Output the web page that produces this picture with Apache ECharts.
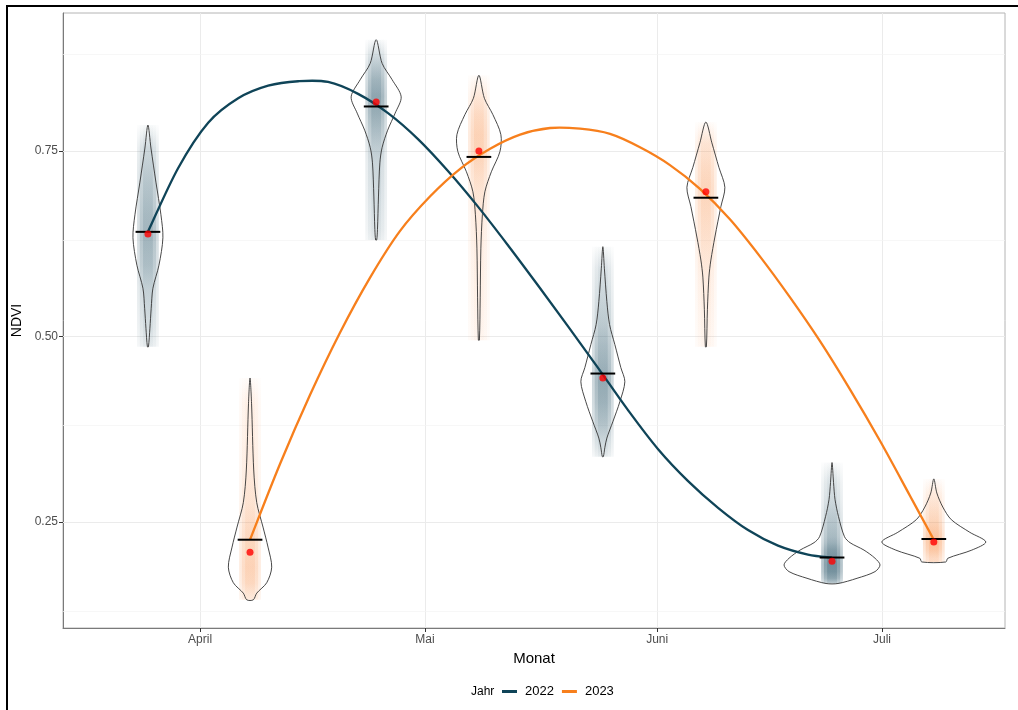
<!DOCTYPE html>
<html><head><meta charset="utf-8">
<script src="https://cdn.jsdelivr.net/npm/echarts@6/dist/echarts.min.js"></script>
<style>html,body{margin:0;padding:0;background:#fff}#c{width:1018px;height:710px}</style>
</head><body><div id="c"></div>
<script>
// ---------- data ----------
const monthLabels = ['April', 'Mai', 'Juni', 'Juli'];
const monthStarts = ['2022-04-01 00:00', '2022-05-01 00:00', '2022-06-01 00:00', '2022-07-01 00:00'];
const yTickValues = [0.25, 0.50, 0.75];
const yMinorValues = [0.125, 0.375, 0.625, 0.875];
const years = ['2022', '2023'];

const violinYear = ['2022', '2023', '2022', '2023', '2022', '2023', '2022', '2023'];
const violinDate = ['2022-03-25 01:00', '2022-04-07 16:00', '2022-04-24 12:00', '2022-05-08 05:00',
                    '2022-05-24 18:00', '2022-06-07 12:00', '2022-06-24 08:00', '2022-07-07 22:00'];
const violinMedian = [0.641, 0.226, 0.810, 0.742, 0.450, 0.687, 0.202, 0.227];
const violinMean   = [0.638, 0.209, 0.816, 0.750, 0.444, 0.695, 0.197, 0.223];
// [NDVI, relative density]
const violinProfiles = [
  [[0.785,0],[0.754,0.058],[0.708,0.154],[0.664,0.25],[0.633,0.288],[0.596,0.212],[0.565,0.096],[0.538,0.063],[0.511,0.038],[0.486,0.01]],
  [[0.444,0],[0.41,0.029],[0.32,0.071],[0.276,0.129],[0.243,0.25],[0.216,0.346],[0.189,0.417],[0.168,0.321],[0.154,0.129],[0.145,0.063]],
  [[0.9,0],[0.868,0.115],[0.846,0.308],[0.823,0.481],[0.801,0.365],[0.778,0.221],[0.755,0.115],[0.734,0.071],[0.688,0.044],[0.644,0.025],[0.63,0.01]],
  [[0.852,0],[0.821,0.106],[0.799,0.269],[0.772,0.423],[0.749,0.404],[0.722,0.24],[0.695,0.115],[0.664,0.067],[0.619,0.038],[0.552,0.025],[0.495,0.01]],
  [[0.621,0],[0.592,0.029],[0.547,0.077],[0.516,0.129],[0.489,0.231],[0.458,0.346],[0.439,0.423],[0.412,0.327],[0.385,0.192],[0.363,0.077],[0.35,0.038],[0.338,0.01]],
  [[0.789,0],[0.761,0.115],[0.728,0.25],[0.701,0.365],[0.675,0.288],[0.634,0.173],[0.603,0.096],[0.58,0.058],[0.536,0.029],[0.486,0.01]],
  [[0.33,0],[0.303,0.029],[0.28,0.058],[0.257,0.125],[0.23,0.24],[0.222,0.346],[0.212,0.615],[0.201,0.827],[0.192,0.923],[0.183,0.827],[0.174,0.481],[0.167,0.115]],
  [[0.308,0],[0.289,0.058],[0.27,0.173],[0.253,0.337],[0.236,0.692],[0.223,1],[0.212,0.731],[0.201,0.269],[0.196,0.231]]
];

const curve2022 = [
  ['2022-03-25 01:00',0.641],['2022-03-29 02:00',0.727],['2022-04-02 02:00',0.788],['2022-04-06 02:00',0.821],
  ['2022-04-10 02:00',0.838],['2022-04-14 02:00',0.844],['2022-04-18 02:00',0.843],['2022-04-22 02:00',0.827],
  ['2022-04-26 02:00',0.801],['2022-04-30 02:00',0.766],['2022-05-04 02:00',0.723],['2022-05-08 02:00',0.675],
  ['2022-05-12 02:00',0.623],['2022-05-16 02:00',0.569],['2022-05-20 02:00',0.514],['2022-05-24 02:00',0.458],
  ['2022-05-28 02:00',0.401],['2022-06-01 03:00',0.348],['2022-06-05 03:00',0.305],['2022-06-09 03:00',0.269],
  ['2022-06-13 03:00',0.239],['2022-06-17 03:00',0.218],['2022-06-21 03:00',0.206],['2022-06-24 08:00',0.202]
];
const curve2023 = [
  ['2022-04-07 16:00',0.226],['2022-04-11 16:00',0.328],['2022-04-15 16:00',0.421],['2022-04-19 16:00',0.505],
  ['2022-04-23 16:00',0.579],['2022-04-27 16:00',0.642],['2022-05-01 17:00',0.689],['2022-05-05 17:00',0.726],
  ['2022-05-09 17:00',0.753],['2022-05-13 17:00',0.772],['2022-05-17 17:00',0.781],['2022-05-21 17:00',0.780],
  ['2022-05-25 17:00',0.773],['2022-05-29 17:00',0.755],['2022-06-02 17:00',0.731],['2022-06-06 17:00',0.699],
  ['2022-06-10 17:00',0.658],['2022-06-14 17:00',0.608],['2022-06-18 17:00',0.553],['2022-06-22 17:00',0.494],
  ['2022-06-26 17:00',0.429],['2022-06-30 18:00',0.359],['2022-07-04 18:00',0.285],['2022-07-07 22:00',0.226]
];

// ---------- helpers / styles ----------
function ts(s) {
  const [d, t] = s.split(' ');
  const [Y, M, D] = d.split('-').map(Number);
  const h = t ? Number(t.split(':')[0]) : 0;
  return Date.UTC(Y, M - 1, D, h);
}
const DAY = 86400000;
const VIOLIN_HALF = 6.94;   // days at relative density 1
const JITTER_HALF = 1.45;   // days
const MEDIAN_HALF = 1.65;   // days
const COLORS = { '2022': '#0f4458', '2023': '#f77f1c' };
const CLOUD_RGB = { '2022': '32,78,98', '2023': '247,128,48' };
const monthTs = monthStarts.map(ts);
const curves = { '2022': curve2022, '2023': curve2023 };

const violinData = violinDate.map((d, i) => [ts(d), violinMedian[i]]);

function cloudItem(params, api) {
  const i = params.dataIndex;
  const prof = violinProfiles[i];
  const x = api.value(0);
  const vTop = prof[0][0], vBot = prof[prof.length - 1][0];
  const yr = violinYear[i];
  const rgb = CLOUD_RGB[yr];
  const k = yr === '2022' ? [0.03, 0.82] : [0.025, 0.55];
  const mk = (scale, w) => {
    const stops = prof.map(([v, d]) => ({
      offset: (vTop - v) / (vTop - vBot),
      color: 'rgba(' + rgb + ',' + (Math.min(0.9, k[0] + k[1] * Math.sqrt(d)) * scale).toFixed(3) + ')'
    }));
    const p1 = api.coord([x - w * DAY, vTop]);
    const p2 = api.coord([x + w * DAY, vBot]);
    return { type: 'rect', shape: { x: p1[0], y: p1[1], width: p2[0] - p1[0], height: p2[1] - p1[1] },
      style: { fill: { type: 'linear', x: 0, y: 0, x2: 0, y2: 1, colorStops: stops } } };
  };
  return { type: 'group', children: [mk(0.4, JITTER_HALF), mk(0.35, JITTER_HALF * 0.75), mk(0.3, JITTER_HALF * 0.45)] };
}

function violinItem(params, api) {
  const i = params.dataIndex;
  const prof = violinProfiles[i];
  const x = api.value(0);
  const right = prof.map(([v, d]) => api.coord([x + d * VIOLIN_HALF * DAY, v]));
  let leftProf = prof.slice().reverse();
  if (prof[prof.length - 1][1] === 0) leftProf = leftProf.slice(1);
  if (prof[0][1] === 0) leftProf = leftProf.slice(0, -1);
  const left = leftProf.map(([v, d]) => api.coord([x - d * VIOLIN_HALF * DAY, v]));
  return { type: 'polygon', shape: { points: right.concat(left), smooth: 0.3 },
    style: { fill: 'none', stroke: '#333333', lineWidth: 0.9 } };
}

function medianItem(params, api) {
  const x = api.value(0), v = api.value(1);
  const a = api.coord([x - MEDIAN_HALF * DAY, v]);
  const b = api.coord([x + MEDIAN_HALF * DAY, v]);
  return { type: 'line', shape: { x1: a[0], y1: a[1], x2: b[0], y2: b[1] },
    style: { stroke: '#000', lineWidth: 2 } };
}

// smooth curve through the read points (Catmull-Rom rendered as Bezier path)
function curveRenderer(year) {
  return function (params, api) {
    if (params.dataIndex !== 0) return null;
    const P = curves[year].map(p => api.coord([ts(p[0]), p[1]]));
    const n = P.length;
    let d = 'M' + P[0][0].toFixed(2) + ' ' + P[0][1].toFixed(2);
    for (let i = 0; i < n - 1; i++) {
      const p0 = P[Math.max(0, i - 1)], p1 = P[i], p2 = P[i + 1], p3 = P[Math.min(n - 1, i + 2)];
      const c1x = p1[0] + (p2[0] - p0[0]) / 6, c1y = p1[1] + (p2[1] - p0[1]) / 6;
      const c2x = p2[0] - (p3[0] - p1[0]) / 6, c2y = p2[1] - (p3[1] - p1[1]) / 6;
      d += ' C' + c1x.toFixed(2) + ' ' + c1y.toFixed(2) + ' ' + c2x.toFixed(2) + ' ' + c2y.toFixed(2) + ' ' + p2[0].toFixed(2) + ' ' + p2[1].toFixed(2);
    }
    return { type: 'path', shape: { pathData: d }, style: { fill: 'none', stroke: COLORS[year], lineWidth: 2.3, lineJoin: 'round' } };
  };
}

const chart = echarts.init(document.getElementById('c'), null, { renderer: 'canvas' });
const FONT = '"Liberation Sans", Arial, Helvetica, sans-serif';

chart.setOption({
  animation: false,
  backgroundColor: '#fff',
  textStyle: { fontFamily: FONT },
  grid: { left: 63, right: 13, top: 13, bottom: 82, show: true, borderColor: '#b4b4b4', borderWidth: 1, containLabel: false },
  xAxis: {
    type: 'value', min: ts('2022-03-13 17:00'), max: ts('2022-07-17 10:00'),
    name: 'Monat', nameLocation: 'middle', nameGap: 21,
    nameTextStyle: { fontSize: 15, color: '#000', fontFamily: FONT },
    axisLine: { show: true, lineStyle: { color: '#7a7a7a', width: 1 } },
    axisTick: { show: true, customValues: monthTs, length: 4, lineStyle: { color: '#333' } },
    axisLabel: { customValues: monthTs, margin: 6, fontSize: 12, color: '#4d4d4d', fontFamily: FONT,
      formatter: v => monthLabels[monthTs.indexOf(v)] || '' },
    splitLine: { show: false }
  },
  yAxis: {
    type: 'value', min: 0.107, max: 0.936,
    name: 'NDVI', nameLocation: 'middle', nameGap: 37, nameRotate: 90,
    nameTextStyle: { fontSize: 14, color: '#000', fontFamily: FONT },
    axisLine: { show: true, lineStyle: { color: '#7a7a7a', width: 1 } },
    axisTick: { show: true, customValues: yTickValues, length: 4, lineStyle: { color: '#333' } },
    axisLabel: { customValues: yTickValues, margin: 5, fontSize: 12, color: '#4d4d4d', fontFamily: FONT,
      formatter: v => Number(v).toFixed(2) },
    splitLine: { show: false }
  },
  legend: {
    data: years, left: 502, top: 685, padding: 0, icon: 'rect', itemWidth: 15, itemHeight: 3, itemGap: 8,
    textStyle: { fontSize: 13, color: '#000', fontFamily: FONT, padding: [0, 0, 0, 3] }
  },
  graphic: [
    { type: 'rect', shape: { x: 7, y: 6, width: 1040, height: 740 }, style: { fill: 'none', stroke: '#000', lineWidth: 2 }, z: 100, silent: true },
    { type: 'text', left: 471, top: 686, style: { text: 'Jahr', fontSize: 12, fill: '#000', fontFamily: FONT }, silent: true }
  ],
  series: [
    { type: 'line', name: 'gridMajor', data: [], silent: true, z: 1,
      markLine: { silent: true, z: 1, symbol: ['none', 'none'], label: { show: false }, animation: false,
        lineStyle: { color: '#ebebeb', width: 1, type: 'solid' }, emphasis: { disabled: true },
        data: monthTs.map(t => ({ xAxis: t })).concat(yTickValues.map(v => ({ yAxis: v }))) } },
    { type: 'line', name: 'gridMinor', data: [], silent: true, z: 1,
      markLine: { silent: true, z: 1, symbol: ['none', 'none'], label: { show: false }, animation: false,
        lineStyle: { color: '#f4f4f4', width: 0.7, type: 'solid' }, emphasis: { disabled: true },
        data: yMinorValues.map(v => ({ yAxis: v })) } },
    { type: 'custom', name: 'points', data: violinData, renderItem: cloudItem, z: 10, silent: true },
    { type: 'custom', name: 'violins', data: violinData, renderItem: violinItem, z: 11, silent: true },
    { type: 'custom', name: '2022', data: curve2022.map(p => [ts(p[0]), p[1]]), renderItem: curveRenderer('2022'),
      itemStyle: { color: COLORS['2022'] }, z: 12, silent: true },
    { type: 'custom', name: '2023', data: curve2023.map(p => [ts(p[0]), p[1]]), renderItem: curveRenderer('2023'),
      itemStyle: { color: COLORS['2023'] }, z: 12, silent: true },
    { type: 'custom', name: 'median', data: violinData, renderItem: medianItem, z: 13, silent: true },
    { type: 'scatter', name: 'mean', data: violinDate.map((d, i) => [ts(d), violinMean[i]]), symbolSize: 7,
      itemStyle: { color: '#ff0000' }, z: 14, silent: true }
  ]
});
</script>
</body></html>
